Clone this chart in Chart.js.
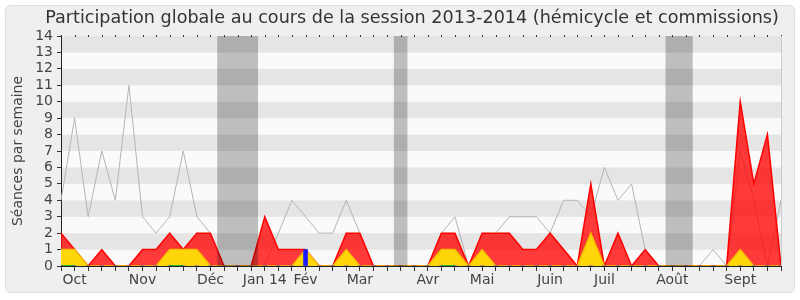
<!DOCTYPE html>
<html>
<head>
<meta charset="utf-8">
<script src="https://cdn.jsdelivr.net/npm/chart.js@4"></script>
<style>
  body { margin: 0; background: #fff; }
  #frame { position: absolute; left: 5px; top: 5px; width: 788px; height: 286px;
           background: #efefef; border: 1px solid #dedede; border-radius: 6px; }
  #myChart { position: absolute; left: 0; top: 0; }
</style>
</head>
<body>
<div id="frame"></div>
<canvas id="myChart" width="800" height="300"></canvas>
<script>
// one label per week, month names where the month starts
const weeks = [
  "", "Oct", "", "", "", "", "Nov", "", "", "", "", "Déc", "", "", "",
  "Jan 14", "", "", "Fév", "", "", "", "Mar", "", "", "", "", "Avr", "", "", "",
  "Mai", "", "", "", "", "Juin", "", "", "", "Juil", "", "", "", "", "Août", "",
  "", "", "", "Sept", "", "", ""
];

const presences = [2, 1, 0, 1, 0, 0, 1, 1, 2, 1, 2, 2, 0, 0, 0, 3, 1, 1, 1, 0,
  0, 2, 2, 0, 0, 0, 0, 0, 2, 2, 0, 2, 2, 2, 1, 1, 2, 1, 0, 5,
  0, 2, 0, 1, 0, 0, 0, 0, 0, 0, 10, 5, 8, 0];

const participations = [1, 1, 0, 0, 0, 0, 0, 0, 1, 1, 1, 0, 0, 0, 0, 0, 0, 0, 1, 0,
  0, 1, 0, 0, 0, 0, 0, 0, 1, 1, 0, 1, 0, 0, 0, 0, 0, 0, 0, 2,
  0, 0, 0, 0, 0, 0, 0, 0, 0, 0, 1, 0, 0, 0];

const mediane = [4, 9, 3, 7, 4, 11, 3, 2, 3, 7, 3, 2, null, null, null, 0, 2, 4, 3, 2,
  2, 4, 2, 0, 0, null, 0, 0, 2, 3, 0, 1, 2, 3, 3, 3, 2, 4, 4, 3,
  6, 4, 5, 1, 0, null, null, 0, 1, 0, 7, 4, 0, 4];

const interventions = [0, 0, null, null, null, null, null, null, 0, 0, null, null, null, null, null,
  null, null, null, null, null, null, null, null, null, null, null, null, null, 0, 0,
  null, null, null, null, null, null, null, null, null, null, null, null, null, null,
  null, null, null, null, null, null, null, null, null, null];

const questions = [0, 0, 0, 0, 0, 0, 0, 0, 0, 0, 0, 0, 0, 0, 0, 0, 0, 0, 1, 0,
  0, 0, 0, 0, 0, 0, 0, 0, 0, 0, 0, 0, 0, 0, 0, 0, 0, 0, 0, 0,
  0, 0, 0, 0, 0, 0, 0, 0, 0, 0, 0, 0, 0, 0];

// vacations (first week, last week)
const vacances = [[12, 14], [25, 25], [45, 46]];

const FONT = "DejaVu Sans";

const decor = {
  id: "decor",
  beforeDraw(chart) {
    const { ctx, chartArea: a, scales: { y } } = chart;
    ctx.save();
    for (let v = 0; v < 14; v++) {
      ctx.fillStyle = v % 2 ? "#e5e5e5" : "#fafafa";
      const t = y.getPixelForValue(v + 1), b = y.getPixelForValue(v);
      ctx.fillRect(a.left, t, a.right - a.left, b - t);
    }
    ctx.restore();
  },
  afterDatasetsDraw(chart) {
    const { ctx, chartArea: a, scales: { x } } = chart;
    ctx.save();
    ctx.fillStyle = "rgba(0,0,0,0.24)";
    vacances.forEach(([s, e]) => {
      const l = x.getPixelForValue(s - 0.5), r = x.getPixelForValue(e + 0.5);
      ctx.fillRect(l, a.top, r - l, a.bottom - a.top);
    });
    // small week marks along the top edge
    ctx.fillStyle = "#333";
    for (let i = 0; i < weeks.length; i++) {
      ctx.fillRect(Math.round(x.getPixelForValue(i)), a.top - 1, 1, 2);
    }
    ctx.strokeStyle = "#cccccc";
    ctx.beginPath();
    ctx.moveTo(a.right + 0.5, a.top);
    ctx.lineTo(a.right + 0.5, a.bottom);
    ctx.stroke();
    // title
    ctx.fillStyle = "#333";
    ctx.font = "17.6px " + FONT;
    ctx.textAlign = "center";
    ctx.textBaseline = "middle";
    ctx.fillText("Participation globale au cours de la session 2013-2014 (hémicycle et commissions)", 412, 18);
    ctx.restore();
  }
};

new Chart(document.querySelector("#myChart"), {
  type: "line",
  data: {
    labels: weeks,
    datasets: [
      {
        type: "bar",
        data: questions,
        backgroundColor: "#1a1aff",
        barThickness: 4,
        order: 1,
      },
      {
        data: interventions,
        borderColor: "#22bb22",
        borderWidth: 2,
        pointRadius: 0,
        order: 2,
      },
      {
        data: participations,
        borderColor: "#f5c000",
        backgroundColor: "#ffd60a",
        borderWidth: 1.5,
        fill: "origin",
        pointRadius: 0,
        order: 3,
      },
      {
        data: presences,
        borderColor: "#ff0000",
        backgroundColor: "rgba(255,0,0,0.77)",
        borderWidth: 1.5,
        fill: "origin",
        pointRadius: 0,
        order: 4,
      },
      {
        data: mediane,
        borderColor: "#b4b4b4",
        borderWidth: 1,
        pointRadius: 0,
        spanGaps: false,
        order: 5,
      },
    ],
  },
  options: {
    responsive: false,
    animation: false,
    layout: { padding: { top: 36, right: 19, left: 0, bottom: 0 } },
    plugins: { legend: { display: false }, tooltip: { enabled: false } },
    scales: {
      x: {
        offset: false,
        grid: { offset: false, drawOnChartArea: false, tickLength: 5, color: "#333" },
        border: { color: "#222" },
        ticks: { autoSkip: false, maxRotation: 0, padding: 1, color: "#444",
                 font: { family: FONT, size: 14 } },
        afterFit(s) { s.height = 34; },
      },
      y: {
        min: 0,
        max: 14,
        grid: { drawOnChartArea: false, tickLength: 4, color: "#333" },
        border: { color: "#222" },
        ticks: { stepSize: 1, autoSkip: false, padding: 4, color: "#444",
                 font: { family: FONT, size: 14 } },
        title: { display: true, text: "Séances par semaine", color: "#444",
                 font: { family: FONT, size: 14 }, padding: { top: 10, bottom: 0 } },
        afterFit(s) { s.width = 61; },
      },
    },
  },
  plugins: [decor],
});
</script>
</body>
</html>
